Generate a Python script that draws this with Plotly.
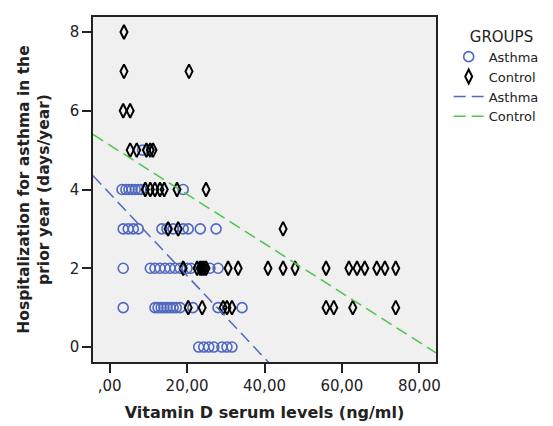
import plotly.graph_objects as go

# Asthma group (vitamin D ng/ml, hospitalization days/year)
asthma_x = [8.5, 10.0,
            3.2, 4.2, 5.0, 5.8, 6.6, 7.4, 8.1, 19.0,
            3.5, 4.8, 6.1, 7.4, 13.5, 14.8, 16.4, 19.0, 20.3, 23.4, 27.5,
            3.5, 10.5, 11.7, 13.0, 14.3, 15.6, 16.9, 18.2, 20.0, 21.0, 25.9, 28.0,
            3.5, 11.7, 12.5, 13.3, 14.0, 14.8, 15.6, 16.4, 17.2, 18.2, 21.5, 28.0, 34.2,
            23.0, 24.3, 25.6, 26.9, 29.0, 30.3, 31.6]
asthma_y = [5, 5,
            4, 4, 4, 4, 4, 4, 4, 4,
            3, 3, 3, 3, 3, 3, 3, 3, 3, 3, 3,
            2, 2, 2, 2, 2, 2, 2, 2, 2, 2, 2, 2,
            1, 1, 1, 1, 1, 1, 1, 1, 1, 1, 1, 1, 1,
            0, 0, 0, 0, 0, 0, 0]

# Control group
control_x = [3.7,
             3.7, 20.5,
             3.5, 5.3,
             5.3, 7.0, 9.5, 10.5, 11.2,
             9.2, 10.5, 11.7, 13.0, 14.1, 17.4, 24.9,
             15.1, 17.7, 44.8,
             19.0, 22.6, 23.4, 23.9, 24.4, 24.9, 30.6, 33.2, 40.9, 44.8, 47.9,
             55.9, 61.8, 63.9, 65.9, 69.0, 71.1, 73.9,
             20.3, 23.9, 29.3, 30.3, 31.6, 55.9, 57.9, 62.8, 73.9]
control_y = [8,
             7, 7,
             6, 6,
             5, 5, 5, 5, 5,
             4, 4, 4, 4, 4, 4, 4,
             3, 3, 3,
             2, 2, 2, 2, 2, 2, 2, 2, 2, 2, 2,
             2, 2, 2, 2, 2, 2, 2,
             1, 1, 1, 1, 1, 1, 1, 1, 1]

# Fit lines (intercept, slope)
asthma_fit = (3.9, -0.1045)
control_fit = (5.13, -0.0626)

x_range = [-4.3, 84.3]
y_range = [-0.38, 8.38]

x_tickvals = [0, 20, 40, 60, 80]
x_ticktext = [",00", "20,00", "40,00", "60,00", "80,00"]
y_tickvals = [0, 2, 4, 6, 8]

blue = "#5068c0"
green = "#4cc64c"

fig = go.Figure()
fig.add_trace(go.Scatter(
    x=asthma_x, y=asthma_y, mode="markers", name="Asthma",
    marker=dict(symbol="circle-open", size=10, color=blue, line=dict(width=1.6, color=blue)),
))
fig.add_trace(go.Scatter(
    x=control_x, y=control_y, mode="markers", name="Control",
    marker=dict(symbol="diamond-tall-open", size=10, color="black", line=dict(width=2, color="black")),
))
fit_x = x_range
fig.add_trace(go.Scatter(
    x=fit_x, y=[asthma_fit[0] + asthma_fit[1] * v for v in fit_x], mode="lines", name="Asthma",
    line=dict(color=blue, width=1.5, dash="12px,6px"),
))
fig.add_trace(go.Scatter(
    x=fit_x, y=[control_fit[0] + control_fit[1] * v for v in fit_x], mode="lines", name="Control",
    line=dict(color=green, width=1.5, dash="12px,6px"),
))

axis_font = dict(family="DejaVu Sans", size=15, color="#222222")
fig.update_layout(
    width=553, height=426,
    margin=dict(l=93, r=117, t=17, b=64, autoexpand=False),
    paper_bgcolor="white", plot_bgcolor="#f0f0f0",
    font=dict(family="DejaVu Sans", size=13, color="#222222"),
    showlegend=True,
    legend=dict(
        title=dict(text="\u00a0\u00a0\u00a0\u00a0GROUPS", font=dict(size=15)),
        x=1.037, y=0.985, xanchor="left", yanchor="top",
        font=dict(size=13), tracegroupgap=0, itemwidth=30,
        bgcolor="rgba(0,0,0,0)",
    ),
    xaxis=dict(
        range=x_range, tickvals=x_tickvals, ticktext=x_ticktext, automargin=False,
        showgrid=False, zeroline=False, ticks="outside", ticklen=9, tickwidth=2,
        tickcolor="#222222", showline=True, linecolor="#222222", linewidth=1.5, mirror=True,
        tickfont=axis_font,
        title=dict(text="<b>Vitamin D serum levels (ng/ml)</b>", font=dict(size=16), standoff=13),
    ),
    yaxis=dict(
        range=y_range, tickvals=y_tickvals, automargin=False,
        showgrid=False, zeroline=False, ticks="outside", ticklen=9, tickwidth=2,
        tickcolor="#222222", showline=True, linecolor="#222222", linewidth=1.5, mirror=True,
        tickfont=axis_font,
        title=dict(text="<b>Hospitalization for asthma in the<br>prior year (days/year)</b>",
                   font=dict(size=15.5), standoff=16),
    ),
)

fig.write_html("out.html",
               config={"displayModeBar": False},
               post_script="document.body.style.margin='0';document.body.style.overflow='hidden';")
